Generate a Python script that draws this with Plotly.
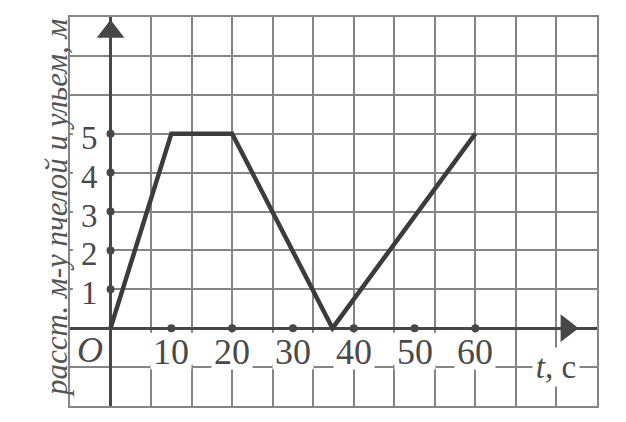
import plotly.graph_objects as go

# time (s) and distance between bee and hive (m)
time_s = [0, 10, 20, 36.5, 60]
distance_m = [0, 5, 5, 0, 5]

x_tick_values = [10, 20, 30, 40, 50, 60]
x_tick_labels = ["10", "20", "30", "40", "50", "60"]
y_tick_values = [1, 2, 3, 4, 5]
y_tick_labels = ["1", "2", "3", "4", "5"]

AXIS_COLOR = "#474747"
GRID_COLOR = "#858585"
LINE_COLOR = "#3c3c3c"
TEXT_COLOR = "#4a4a4a"
SERIF = "Liberation Serif, Times New Roman, serif"

figure = go.Figure()

# the data line
figure.add_trace(
    go.Scatter(
        x=time_s,
        y=distance_m,
        mode="lines",
        line={"color": LINE_COLOR, "width": 4.5},
        showlegend=False,
        hoverinfo="skip",
    )
)

# tick dots on both axes
figure.add_trace(
    go.Scatter(
        x=x_tick_values,
        y=[0] * len(x_tick_values),
        mode="markers",
        marker={"color": AXIS_COLOR, "size": 8},
        showlegend=False,
        hoverinfo="skip",
        cliponaxis=False,
    )
)
figure.add_trace(
    go.Scatter(
        x=[0] * len(y_tick_values),
        y=y_tick_values,
        mode="markers",
        marker={"color": AXIS_COLOR, "size": 8},
        showlegend=False,
        hoverinfo="skip",
        cliponaxis=False,
    )
)

# arrow heads
figure.add_trace(
    go.Scatter(
        x=[0, 75],
        y=[7.62, 0],
        mode="markers",
        marker={
            "color": AXIS_COLOR,
            "size": 24,
            "symbol": ["triangle-up", "triangle-right"],
            "line": {"width": 0},
        },
        showlegend=False,
        hoverinfo="skip",
        cliponaxis=False,
    )
)

# white areas where the labels sit (grid lines are hidden there)
figure.add_shape(
    type="rect",
    x0=-6.2, x1=-0.4, y0=0.55, y1=5.55,
    fillcolor="white", line={"width": 0}, layer="between",
)
figure.add_shape(
    type="rect",
    x0=0.4, x1=64, y0=-0.94, y1=-0.12,
    fillcolor="white", line={"width": 0}, layer="between",
)

for value, label in zip(x_tick_values, x_tick_labels):
    figure.add_annotation(
        x=value, y=-0.6, text=label, showarrow=False,
        font={"family": SERIF, "size": 36, "color": TEXT_COLOR},
        bgcolor="white", height=32, width=38,
    )
for value, label in zip(y_tick_values, y_tick_labels):
    figure.add_annotation(
        x=-3.4, y=value, yshift=-4, text=label, showarrow=False,
        font={"family": SERIF, "size": 33, "color": TEXT_COLOR},
    )

figure.add_annotation(
    x=-3.4, y=-0.55, text="<i>O</i>", showarrow=False,
    font={"family": SERIF, "size": 36, "color": TEXT_COLOR},
)
figure.add_annotation(
    x=73.3, y=-1.0, text="<i>t</i>, c", showarrow=False,
    font={"family": SERIF, "size": 33, "color": TEXT_COLOR},
    bgcolor="white", width=44,
)
figure.add_annotation(
    xref="paper", yref="paper", x=-0.063, y=0.51,
    text="<i>расст. м-у пчелой и ульем, м</i>",
    textangle=-90, showarrow=False,
    font={"family": SERIF, "size": 31, "color": "#555555"},
)

figure.update_xaxes(
    range=[-20 / 3, 80],
    tick0=0,
    dtick=20 / 3,
    showticklabels=False,
    ticks="",
    showgrid=True,
    gridcolor=GRID_COLOR,
    gridwidth=2,
    zeroline=True,
    zerolinecolor=AXIS_COLOR,
    zerolinewidth=3,
    showline=True,
    mirror=True,
    linecolor=GRID_COLOR,
    linewidth=2,
)
figure.update_yaxes(
    range=[-2, 8],
    tick0=0,
    dtick=1,
    showticklabels=False,
    ticks="",
    showgrid=True,
    gridcolor=GRID_COLOR,
    gridwidth=2,
    zeroline=True,
    zerolinecolor=AXIS_COLOR,
    zerolinewidth=3,
    showline=True,
    mirror=True,
    linecolor=GRID_COLOR,
    linewidth=2,
)
# the page adds an 8px body margin, so the figure is 8px smaller
figure.update_layout(
    width=618,
    height=414,
    margin={"l": 62, "r": 29, "t": 7, "b": 16},
    paper_bgcolor="white",
    plot_bgcolor="white",
    showlegend=False,
)

figure.write_html("out.html")
